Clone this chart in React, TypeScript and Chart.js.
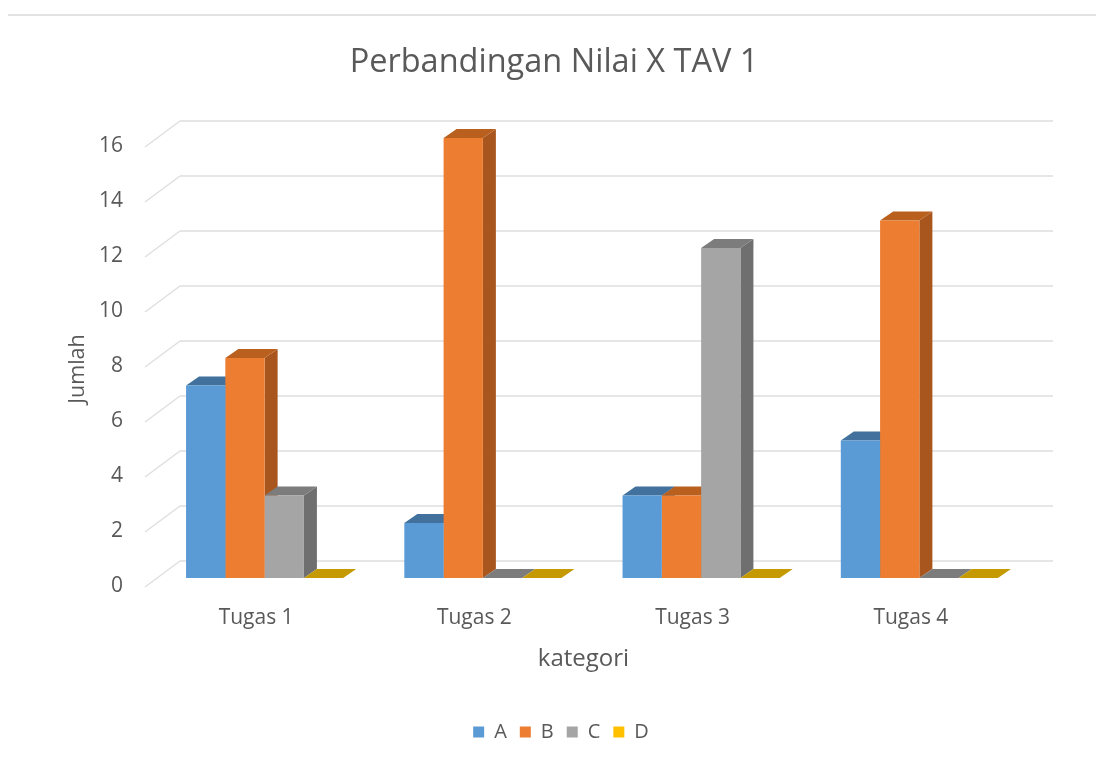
import React, { useEffect, useRef } from "react";
import { Chart, registerables } from "chart.js";

Chart.register(...registerables);

const categories = ["Tugas 1", "Tugas 2", "Tugas 3", "Tugas 4"];
const seriesA = [7, 2, 3, 5];
const seriesB = [8, 16, 3, 13];
const seriesC = [3, 0, 12, 0];
const seriesD = [0, 0, 0, 0];
const seriesNames = ["A", "B", "C", "D"];
const frontColors = ["#5B9BD5", "#ED7D31", "#A5A5A5", "#FFC000"];
const topColors = ["#41719C", "#B9601F", "#7C7C7C", "#C49A00"];
const sideColors = ["#41719C", "#A9561E", "#6F6F6F", "#BF9000"];
const yAxisTitle = "Jumlah";

const FONT = "'Open Sans', sans-serif";
const TEXT = "#595959";
const BAR_SHIFT = 8.5;
const DEPTH_X = 13;
const DEPTH_Y = 9;

const bars3d = {
  id: "bars3d",
  afterLayout(chart: any) {
    if (chart.legend) {
      chart.legend.left += 7;
      chart.legend.right += 7;
    }
  },
  beforeDatasetsDraw(chart: any) {
    const { ctx, chartArea, scales } = chart;
    const y = scales.y;
    ctx.save();
    // rule left over at the top of the picture
    ctx.strokeStyle = "#E2E2E2";
    ctx.lineWidth = 2;
    ctx.beginPath();
    ctx.moveTo(8, 15);
    ctx.lineTo(1096, 15);
    ctx.stroke();
    // back wall and side wall grid
    for (const t of y.ticks) {
      const yBack = y.getPixelForValue(t.value) - 17;
      ctx.strokeStyle = "#E6E6E6";
      ctx.lineWidth = 2;
      ctx.beginPath();
      ctx.moveTo(chartArea.left + 33, yBack);
      ctx.lineTo(chartArea.right + 33, yBack);
      ctx.stroke();
      ctx.strokeStyle = "#DFDFDF";
      ctx.lineWidth = 1.5;
      ctx.beginPath();
      ctx.moveTo(chartArea.left - 2, yBack + 26);
      ctx.lineTo(chartArea.left + 33, yBack);
      ctx.stroke();
    }
    // top and side faces, in series order, under the library's front faces
    chart.data.datasets.forEach((_: any, di: number) => {
      const meta = chart.getDatasetMeta(di);
      meta.data.forEach((bar: any) => {
        const p = bar.getProps(["x", "y", "base", "width"], true);
        const l = p.x - p.width / 2 + BAR_SHIFT;
        const r = p.x + p.width / 2 + BAR_SHIFT;
        ctx.fillStyle = sideColors[di];
        ctx.beginPath();
        ctx.moveTo(r, p.y);
        ctx.lineTo(r + DEPTH_X, p.y - DEPTH_Y);
        ctx.lineTo(r + DEPTH_X, p.base - DEPTH_Y);
        ctx.lineTo(r, p.base);
        ctx.closePath();
        ctx.fill();
        ctx.fillStyle = topColors[di];
        ctx.beginPath();
        ctx.moveTo(l, p.y);
        ctx.lineTo(l + DEPTH_X, p.y - DEPTH_Y);
        ctx.lineTo(r + DEPTH_X, p.y - DEPTH_Y);
        ctx.lineTo(r, p.y);
        ctx.closePath();
        ctx.fill();
      });
    });
    ctx.restore();
  },
  beforeDatasetDraw(chart: any) {
    chart.ctx.save();
    chart.ctx.translate(BAR_SHIFT, 0);
  },
  afterDatasetDraw(chart: any) {
    chart.ctx.restore();
  },
  afterDraw(chart: any) {
    // the axis title sits below the middle of the axis in the reference
    const { ctx } = chart;
    ctx.save();
    ctx.translate(78, 369);
    ctx.rotate(-Math.PI / 2);
    ctx.font = `21.5px ${FONT}`;
    ctx.fillStyle = TEXT;
    ctx.textAlign = "center";
    ctx.textBaseline = "middle";
    ctx.fillText(yAxisTitle, 0, 0);
    ctx.restore();
  },
};

export default function App() {
  const ref = useRef<HTMLCanvasElement>(null);
  useEffect(() => {
    const values = [seriesA, seriesB, seriesC, seriesD];
    const chart = new Chart(ref.current as HTMLCanvasElement, {
      type: "bar",
      data: {
        labels: categories,
        datasets: seriesNames.map((name, i) => ({
          label: name,
          data: values[i],
          backgroundColor: frontColors[i],
          borderWidth: 0,
          categoryPercentage: 0.72,
          barPercentage: 1,
        })),
      },
      plugins: [bars3d],
      options: {
        responsive: false,
        animation: false,
        layout: { padding: { left: 0, right: 0, top: 0, bottom: 5 } },
        plugins: {
          tooltip: { enabled: false },
          title: {
            display: true,
            text: "Perbandingan Nilai X TAV 1",
            color: TEXT,
            font: { family: FONT, size: 32.5, weight: "normal" },
            padding: { top: 43, bottom: 56 },
          },
          legend: {
            position: "bottom",
            labels: {
              color: TEXT,
              font: { family: FONT, size: 20 },
              boxWidth: 11,
              boxHeight: 11,
              padding: 13,
            },
          },
        },
        scales: {
          x: {
            grid: { display: false },
            border: { display: false },
            afterFit: (s: any) => {
              s.height = 131;
            },
            ticks: {
              color: TEXT,
              font: { family: FONT, size: 21 },
              padding: 19,
              maxRotation: 0,
            },
            title: {
              display: true,
              text: "kategori",
              color: TEXT,
              font: { family: FONT, size: 24 },
              padding: { top: 12, bottom: 35 },
            },
          },
          y: {
            min: 0,
            max: 16,
            grid: { display: false },
            border: { display: false },
            afterFit: (s: any) => {
              s.width = 147;
            },
            ticks: {
              stepSize: 2,
              color: TEXT,
              font: { family: FONT, size: 21 },
              padding: 16,
              labelOffset: 8,
            },
          },
          y2: {
            position: "right",
            grid: { display: false },
            border: { display: false },
            ticks: { display: false },
            afterFit: (s: any) => {
              s.width = 88;
            },
          },
        },
      } as any,
    });
    return () => chart.destroy();
  }, []);
  return (
    <div style={{ position: "fixed", left: 0, top: 0, width: 1096, height: 757, overflow: "hidden", background: "#fff" }}>
      <canvas ref={ref} width={1108} height={757} style={{ display: "block" }} />
    </div>
  );
}
